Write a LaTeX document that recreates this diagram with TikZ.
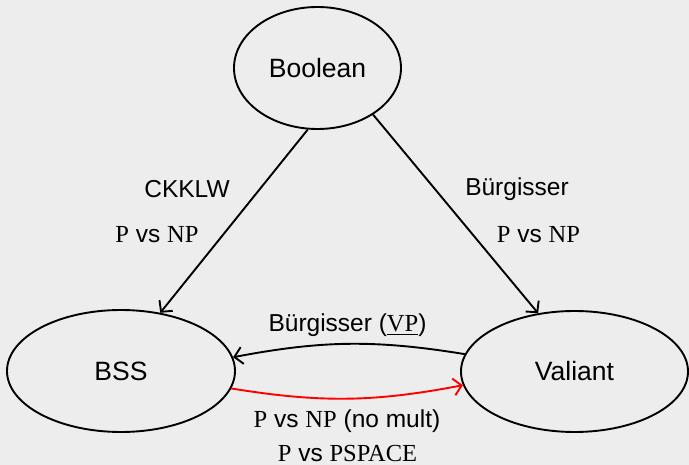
\documentclass[tikz,border=0pt]{standalone}
\usepackage{fontspec}
\setmainfont{Liberation Sans}
\newfontfamily\tms{Liberation Serif}
\usetikzlibrary{shapes.geometric,arrows.meta}
\definecolor{bgc}{RGB}{237,237,237}
\newcommand{\cls}[1]{{\tms #1}}
\begin{document}
\begin{tikzpicture}[x=1pt,y=-1pt,
  model/.style={draw, ellipse, line width=1.9pt, inner sep=0pt,
    font=\fontsize{26.5}{30}\selectfont},
  lab/.style={anchor=base, inner sep=0pt, font=\fontsize{24.5}{28}\selectfont},
  edge/.style={line width=1.9pt, -{Straight Barb[length=8pt,width=17pt,line width=1.9pt]}}]
\fill[bgc] (0,0) rectangle (689,465);
\useasboundingbox (0,0) rectangle (689,465);

% the three models
\node[model, minimum width=167pt, minimum height=122pt] (bool) at (317.5,68) {Boolean};
\node[model, minimum width=228pt, minimum height=122pt] (bss) at (121,371) {BSS};
\node[model, minimum width=227pt, minimum height=121pt] (val) at (574.5,371.5) {Valiant};

% transfers between models
\draw[edge] (bool.261.8) -- (bss.56.1);
\draw[edge] (bool.320.2) -- (val.122.7);
\draw[edge] (val.171.6) to[bend right=10] (bss.7.6);
\draw[edge, red] (bss.351.7) to[bend right=10] (val.187.4);

% edge labels
\node[lab] (l1) at (187,198) {CKKLW};
\node[lab] (l2) at (157,243) {\cls{P} vs \cls{NP}};
\node[lab] (l3) at (517,196) {Bürgisser};
\node[lab] (l4) at (538.5,243) {\cls{P} vs \cls{NP}};
\node[lab] (l5) at (347.5,332) {Bürgisser (\underline{\cls{VP}})};
\node[lab] (l6) at (347,428) {\cls{P} vs \cls{NP} (no mult)};
\node[lab] (l7) at (347.5,461) {\cls{P} vs \cls{PSPACE}};
\end{tikzpicture}
\end{document}
